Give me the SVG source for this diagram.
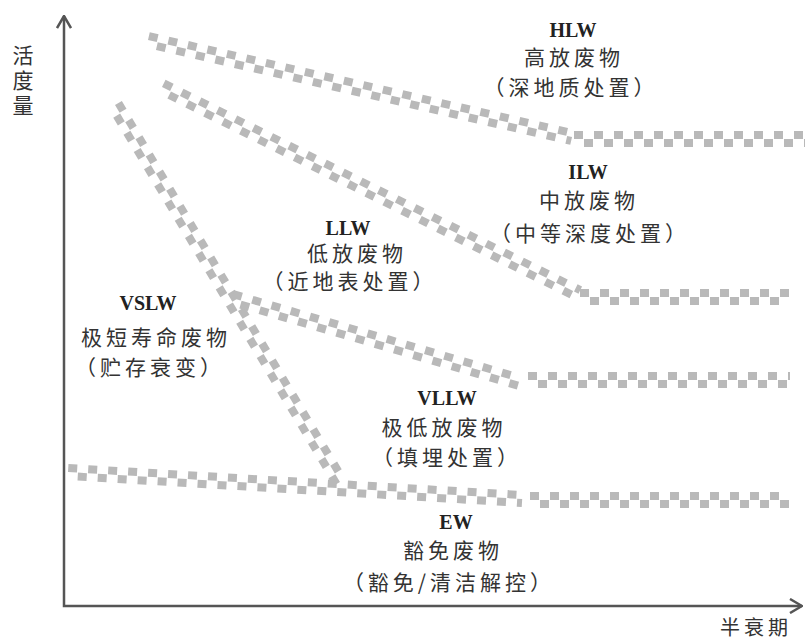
<svg xmlns="http://www.w3.org/2000/svg" width="805" height="641" viewBox="0 0 805 641">
<style>
.t{stroke:#b9b9b9;stroke-width:8;stroke-dasharray:9 11;fill:none}
.b{stroke:#b9b9b9;stroke-width:8;stroke-dasharray:9 11;stroke-dashoffset:10;fill:none}
.lat{font-family:"Liberation Serif",serif;font-weight:bold;font-size:20px;fill:#222;text-anchor:middle}
.cjk{font-family:"Noto Sans CJK SC",sans-serif;font-size:21px;letter-spacing:4px;fill:#333;text-anchor:middle}
.ax{fill:none;stroke:#555;stroke-width:2.5}
</style>
<defs>
<marker id="arr" viewBox="0 0 14 16" refX="13" refY="8" markerWidth="14" markerHeight="16" markerUnits="userSpaceOnUse" orient="auto-start-reverse">
<path d="M1,1 L13,8 L1,15" fill="none" stroke="#555" stroke-width="2.5"/>
</marker>
</defs>
<rect width="805" height="641" fill="#fff"/>

<g id="axes">
<path class="ax" d="M64,16 L64,606 L802,606" marker-start="url(#arr)" marker-end="url(#arr)"/>
<text x="23" y="45" style="font-family:'Noto Sans CJK SC',sans-serif;font-size:21px;fill:#333;writing-mode:vertical-rl;letter-spacing:4px">活度量</text>
<text class="cjk" x="756" y="635" style="font-size:20px">半衰期</text>
</g>

<g id="bands">
<g transform="translate(148,40) rotate(12.89)"><line class="t" x1="0" y1="-4" x2="435" y2="-4"/><line class="b" x1="0" y1="4" x2="435" y2="4"/></g>
<g transform="translate(574,139)"><line class="t" x1="0" y1="-4" x2="231" y2="-4"/><line class="b" x1="0" y1="4" x2="231" y2="4"/></g>

<g transform="translate(162,87) rotate(26.4)"><line class="t" x1="0" y1="-4" x2="465" y2="-4"/><line class="b" x1="0" y1="4" x2="465" y2="4"/></g>
<g transform="translate(580,297)"><line class="t" x1="0" y1="-4" x2="210" y2="-4"/><line class="b" x1="0" y1="4" x2="210" y2="4"/></g>

<g transform="translate(115,105) rotate(59.17)"><line class="t" x1="0" y1="-4" x2="439" y2="-4"/><line class="b" x1="0" y1="4" x2="439" y2="4"/></g>

<g transform="translate(232,298) rotate(16.26)"><line class="t" x1="0" y1="-4" x2="300" y2="-4"/><line class="b" x1="0" y1="4" x2="300" y2="4"/></g>
<g transform="translate(528,380)"><line class="t" x1="0" y1="-4" x2="262" y2="-4"/><line class="b" x1="0" y1="4" x2="262" y2="4"/></g>

<g transform="translate(68,472) rotate(3.4)"><line class="t" x1="0" y1="-4" x2="455" y2="-4"/><line class="b" x1="0" y1="4" x2="455" y2="4"/></g>
<g transform="translate(530,500)"><line class="t" x1="0" y1="-4" x2="260" y2="-4"/><line class="b" x1="0" y1="4" x2="260" y2="4"/></g>
</g>

<g id="hlw">
<text class="lat" x="573" y="37">HLW</text>
<text class="cjk" x="574" y="65">高放废物</text>
<text class="cjk" x="571" y="95">（深地质处置）</text>
</g>
<g id="ilw">
<text class="lat" x="588" y="179">ILW</text>
<text class="cjk" x="589" y="208">中放废物</text>
<text class="cjk" x="590" y="241">（中等深度处置）</text>
</g>
<g id="llw">
<text class="lat" x="348" y="235">LLW</text>
<text class="cjk" x="357" y="261">低放废物</text>
<text class="cjk" x="350" y="289">（近地表处置）</text>
</g>
<g id="vslw">
<text class="lat" x="148" y="310">VSLW</text>
<text class="cjk" x="156" y="345">极短寿命废物</text>
<text class="cjk" x="150" y="375">（贮存衰变）</text>
</g>
<g id="vllw">
<text class="lat" x="447" y="405">VLLW</text>
<text class="cjk" x="444" y="435">极低放废物</text>
<text class="cjk" x="447" y="465">（填埋处置）</text>
</g>
<g id="ew">
<text class="lat" x="456" y="529">EW</text>
<text class="cjk" x="453" y="558">豁免废物</text>
<text class="cjk" x="449" y="590">（豁免/清洁解控）</text>
</g>
</svg>
